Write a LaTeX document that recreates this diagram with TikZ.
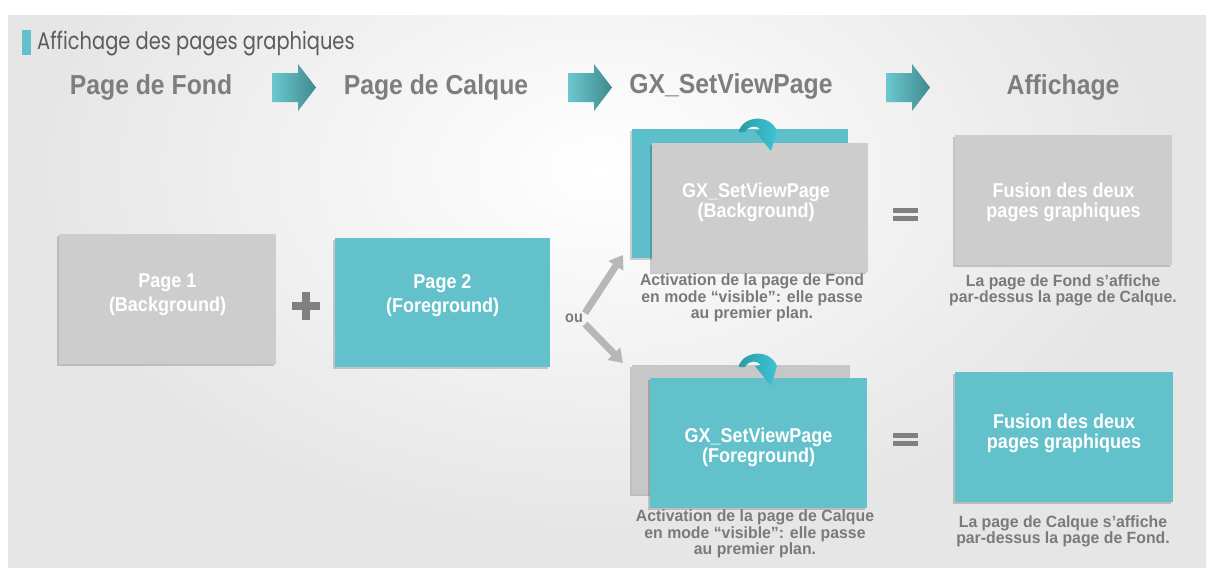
\documentclass[tikz,border=0pt]{standalone}
\usepackage{fontspec}
\setmainfont{Liberation Sans}
\newfontfamily\cond[FakeStretch=0.9]{Liberation Sans}
\newfontfamily\capfont[FakeStretch=0.97]{Liberation Sans}
\newfontfamily\titlefont[FakeStretch=0.81]{Poppins}
\usetikzlibrary{arrows.meta,shadows}
\definecolor{tealbox}{HTML}{62C1CB}
\definecolor{tealback}{HTML}{5CBFC9}
\definecolor{graybox}{HTML}{CDCDCD}
\definecolor{grayback}{HTML}{C7C7C7}
\definecolor{bgc}{HTML}{E6E6E6}
\definecolor{headgray}{HTML}{7E7E7E}
\definecolor{capgray}{HTML}{7A7A7A}
\definecolor{arrL}{HTML}{6CC8D0}
\definecolor{arrR}{HTML}{3E8A8D}
\definecolor{arrgray}{HTML}{B7B7B7}
\definecolor{symgray}{HTML}{808080}
\definecolor{curlL}{HTML}{2A9AA5}
\definecolor{curlR}{HTML}{3FC4D4}
\tikzset{
  heading/.style={font=\cond\bfseries\fontsize{27.5}{30}\selectfont, text=headgray},
  pagebox/.style={minimum width=217pt, minimum height=130pt, inner sep=0pt,
     drop shadow={shadow xshift=-2pt, shadow yshift=-2pt, opacity=0.18, fill=black}},
  boxtxt/.style={font=\cond\bfseries\fontsize{20}{20}\selectfont, text=white, align=center},
  captxt/.style={font=\capfont\bfseries\fontsize{16.3}{14.8}\selectfont, text=capgray, align=center},
  garrow/.style={line width=7pt, draw=arrgray, -{Triangle[length=13pt,width=17pt]}},
  curlshape/.style={left color=curlL, right color=curlR},
}
\begin{document}
\begin{tikzpicture}[x=1pt,y=-1pt]
\useasboundingbox (0,0) rectangle (1206,568);
% background
\fill[white] (0,0) rectangle (1206,568);
\fill[bgc] (8,15) rectangle (1206,568);
\begin{scope}
\clip (8,15) rectangle (1206,568);
\shade[inner color=white, outer color=bgc] (600,170) ellipse (560 and 360);
\end{scope}
% title
\fill[tealbox] (22,30) rectangle (31,55);
\node[anchor=west, inner sep=0pt, font=\titlefont\fontsize{24}{26}\selectfont, text=black!64] (title) at (37,44) {Affichage des pages graphiques};
% headings
\node[heading] (h1) at (151,87) {Page de Fond};
\node[heading] (h2) at (436,87) {Page de Calque};
\node[heading] (h3) at (731,86) {GX\_SetViewPage};
\node[heading] (h4) at (1063,87) {Affichage};
% block arrows
\foreach \xa in {272,568,886}{
  \shade[left color=arrL, right color=arrR]
    (\xa,73) -- (\xa+26,73) -- (\xa+26,64) -- (\xa+44,87.5) -- (\xa+26,111) -- (\xa+26,102) -- (\xa,102) -- cycle;
}
% left pages
\node[pagebox, fill=graybox] (p1) at (167.5,298.5) {};
\node[boxtxt] at (167.5,295) {Page 1\\[4pt](Background)};
\node[pagebox, fill=tealbox, minimum width=215pt, minimum height=129pt] (p2) at (442.5,302.5) {};
\node[boxtxt] at (442.5,296) {Page 2\\[4pt](Foreground)};
% plus
\fill[symgray] (302,292) rectangle (310,320);
\fill[symgray] (292,302) rectangle (320,310);
% ou + arrows
\node[font=\cond\bfseries\fontsize{16}{16}\selectfont, text=capgray, inner sep=1pt] (ou) at (574,318) {ou};
\coordinate (upT) at (623,255);
\coordinate (dnT) at (623,363);
\draw[garrow] (ou.east) ++(1,-5) -- (upT);
\draw[garrow] (ou.east) ++(1,6) -- (dnT);
% top stack
\node[pagebox, fill=tealback, minimum width=216pt, minimum height=129pt] (b1) at (740,193.5) {};
\node[pagebox, fill=graybox, minimum width=216pt, minimum height=129pt] (f1) at (760,207.5) {};
\node[boxtxt] at (756,202) {GX\_SetViewPage\\(Background)};
\shade[curlshape] (739,132) .. controls (741,117) and (769,112) .. (777,131) -- (771,151) -- (755,131) -- (761,130) .. controls (757,125) and (749,125) .. (745,132) -- cycle;
\node[captxt] (c1) at (752,298) {Activation de la page de Fond\\en mode “visible”: elle passe\\au premier plan.};
% bottom stack
\node[pagebox, fill=grayback, minimum width=218pt, minimum height=129pt] (b2) at (741,429.5) {};
\node[pagebox, fill=tealbox, minimum width=217pt, minimum height=130pt] (f2) at (758.5,443) {};
\node[boxtxt] at (758.5,447) {GX\_SetViewPage\\(Foreground)};
\shade[curlshape] (739,367) .. controls (741,352) and (769,347) .. (777,366) -- (771,386) -- (755,366) -- (761,365) .. controls (757,360) and (749,360) .. (745,367) -- cycle;
\node[captxt] (c2) at (755,534) {Activation de la page de Calque\\en mode “visible”: elle passe\\au premier plan.};
% equals
\fill[symgray] (893,208) rectangle (918,213);
\fill[symgray] (893,216) rectangle (918,221);
\fill[symgray] (893,433) rectangle (918,438);
\fill[symgray] (893,441) rectangle (918,446);
% results
\node[pagebox, fill=graybox] (r1) at (1063.5,200) {};
\node[boxtxt] at (1063.5,202) {Fusion des deux\\pages graphiques};
\node[captxt] (c3) at (1063,290) {La page de Fond s’affiche\\par-dessus la page de Calque.};
\node[pagebox, fill=tealbox, minimum width=218pt] (r2) at (1064,437) {};
\node[boxtxt] at (1064,433) {Fusion des deux\\pages graphiques};
\node[captxt] (c4) at (1063,531) {La page de Calque s’affiche\\par-dessus la page de Fond.};
\end{tikzpicture}
\end{document}
